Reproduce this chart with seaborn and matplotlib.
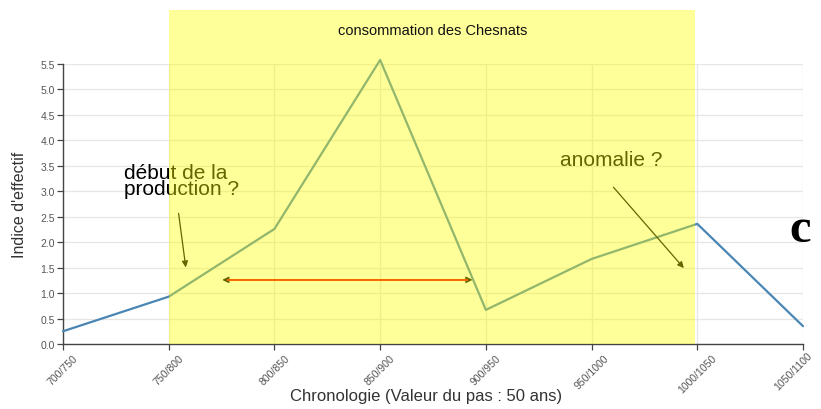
import matplotlib
matplotlib.use("Agg")
import matplotlib.pyplot as plt
from matplotlib.patches import Rectangle
import seaborn as sns
import pandas as pd

periodes = ["700/750", "750/800", "800/850", "850/900", "900/950",
            "950/1000", "1000/1050", "1050/1100"]
indice = [0.25, 0.93, 2.26, 5.58, 0.67, 1.67, 2.36, 0.35]
y_ticks = [0.0, 0.5, 1.0, 1.5, 2.0, 2.5, 3.0, 3.5, 4.0, 4.5, 5.0, 5.5]

df = pd.DataFrame({"periode": periodes, "indice": indice})

sns.set_theme(style="white")
plt.rcParams["font.family"] = ["Liberation Sans", "DejaVu Sans"]

fig = plt.figure(figsize=(8.21, 4.10), dpi=100)
ax = fig.add_axes([63 / 821, 1 - 345 / 410, 740 / 821, 280 / 410])

sns.lineplot(data=df, x="periode", y="indice", sort=False, ax=ax,
             color="#4a86b4", linewidth=1.6, zorder=3, clip_on=False)

ax.set_xlim(0, len(periodes) - 1)
ax.set_ylim(0, 5.5)
ax.set_yticks(y_ticks)
ax.set_yticklabels([f"{v:.1f}" for v in y_ticks], fontsize=7.5, color="#555555")
ax.set_xticks(range(len(periodes)))
# the last label sits against the right edge; it is drawn separately, nudged left
tick_texts = periodes[:-1] + [""]
ax.set_xticklabels(tick_texts, rotation=45, ha="center", va="top",
                   fontsize=7.6, color="#555555")
ax.annotate(periodes[-1], xy=(len(periodes) - 1, 0), xycoords="data",
            xytext=(-7, -4.5), textcoords="offset points", rotation=45,
            ha="center", va="top", fontsize=7.6, color="#555555",
            annotation_clip=False)

ax.grid(True, color="#e6e6e6", linewidth=0.9)
ax.set_axisbelow(True)
for s in ["top", "right"]:
    ax.spines[s].set_visible(False)
for s in ["left", "bottom"]:
    ax.spines[s].set_color("#444444")
    ax.spines[s].set_linewidth(1.0)
ax.tick_params(axis="both", which="both", length=4, width=0.9,
               color="#444444", direction="out", bottom=True, left=True,
               pad=2)

ax.set_ylabel("Indice d'effectif", fontsize=11.5, color="#333333", va="center")
ax.yaxis.set_label_coords(-43 / 740, 0.5)
ax.set_xlabel("Chronologie (Valeur du pas : 50 ans)", fontsize=12,
              color="#333333", va="center")
ax.xaxis.set_label_coords(0.49, -52 / 280)

# annotations (under the highlight band)
ax.text(0.575, 3.55, "début de la\nproduction ?", fontsize=15, color="black",
        va="top", ha="left", linespacing=0.75, zorder=4)
ax.annotate("", xy=(1.165, 1.45), xytext=(1.09, 2.62),
            arrowprops=dict(arrowstyle="-|>", color="black", lw=0.9,
                            mutation_scale=9), zorder=4)
ax.text(4.7, 3.63, "anomalie ?", fontsize=15, color="black",
        va="center", ha="left", zorder=4)
ax.annotate("", xy=(5.89, 1.45), xytext=(5.19, 3.12),
            arrowprops=dict(arrowstyle="-|>", color="black", lw=0.9,
                            mutation_scale=9), zorder=4)

# period of chestnut consumption: dark heads, red shaft
ax.annotate("", xy=(1.48, 1.26), xytext=(3.9, 1.26),
            arrowprops=dict(arrowstyle="<|-|>", color="black", lw=1.0,
                            mutation_scale=9), zorder=4)
ax.plot([1.55, 3.83], [1.26, 1.26], color="#ff0000", lw=1.3, zorder=4.5,
        solid_capstyle="butt")

band = Rectangle((1, 0), 4.98, 6.56, facecolor="#ffff00", alpha=0.4,
                 edgecolor="none", zorder=5, clip_on=False)
ax.add_patch(band)
ax.text(3.5, 6.17, "consommation des Chesnats", fontsize=10.5, color="#111111",
        ha="center", va="center", zorder=6)

fig.text(800 / 821, 1 - 230 / 410, "c", fontsize=35, fontweight="bold",
         family=["Liberation Serif", "DejaVu Serif"], ha="center", va="center",
         color="black")

fig.savefig("out.png", dpi=100)
